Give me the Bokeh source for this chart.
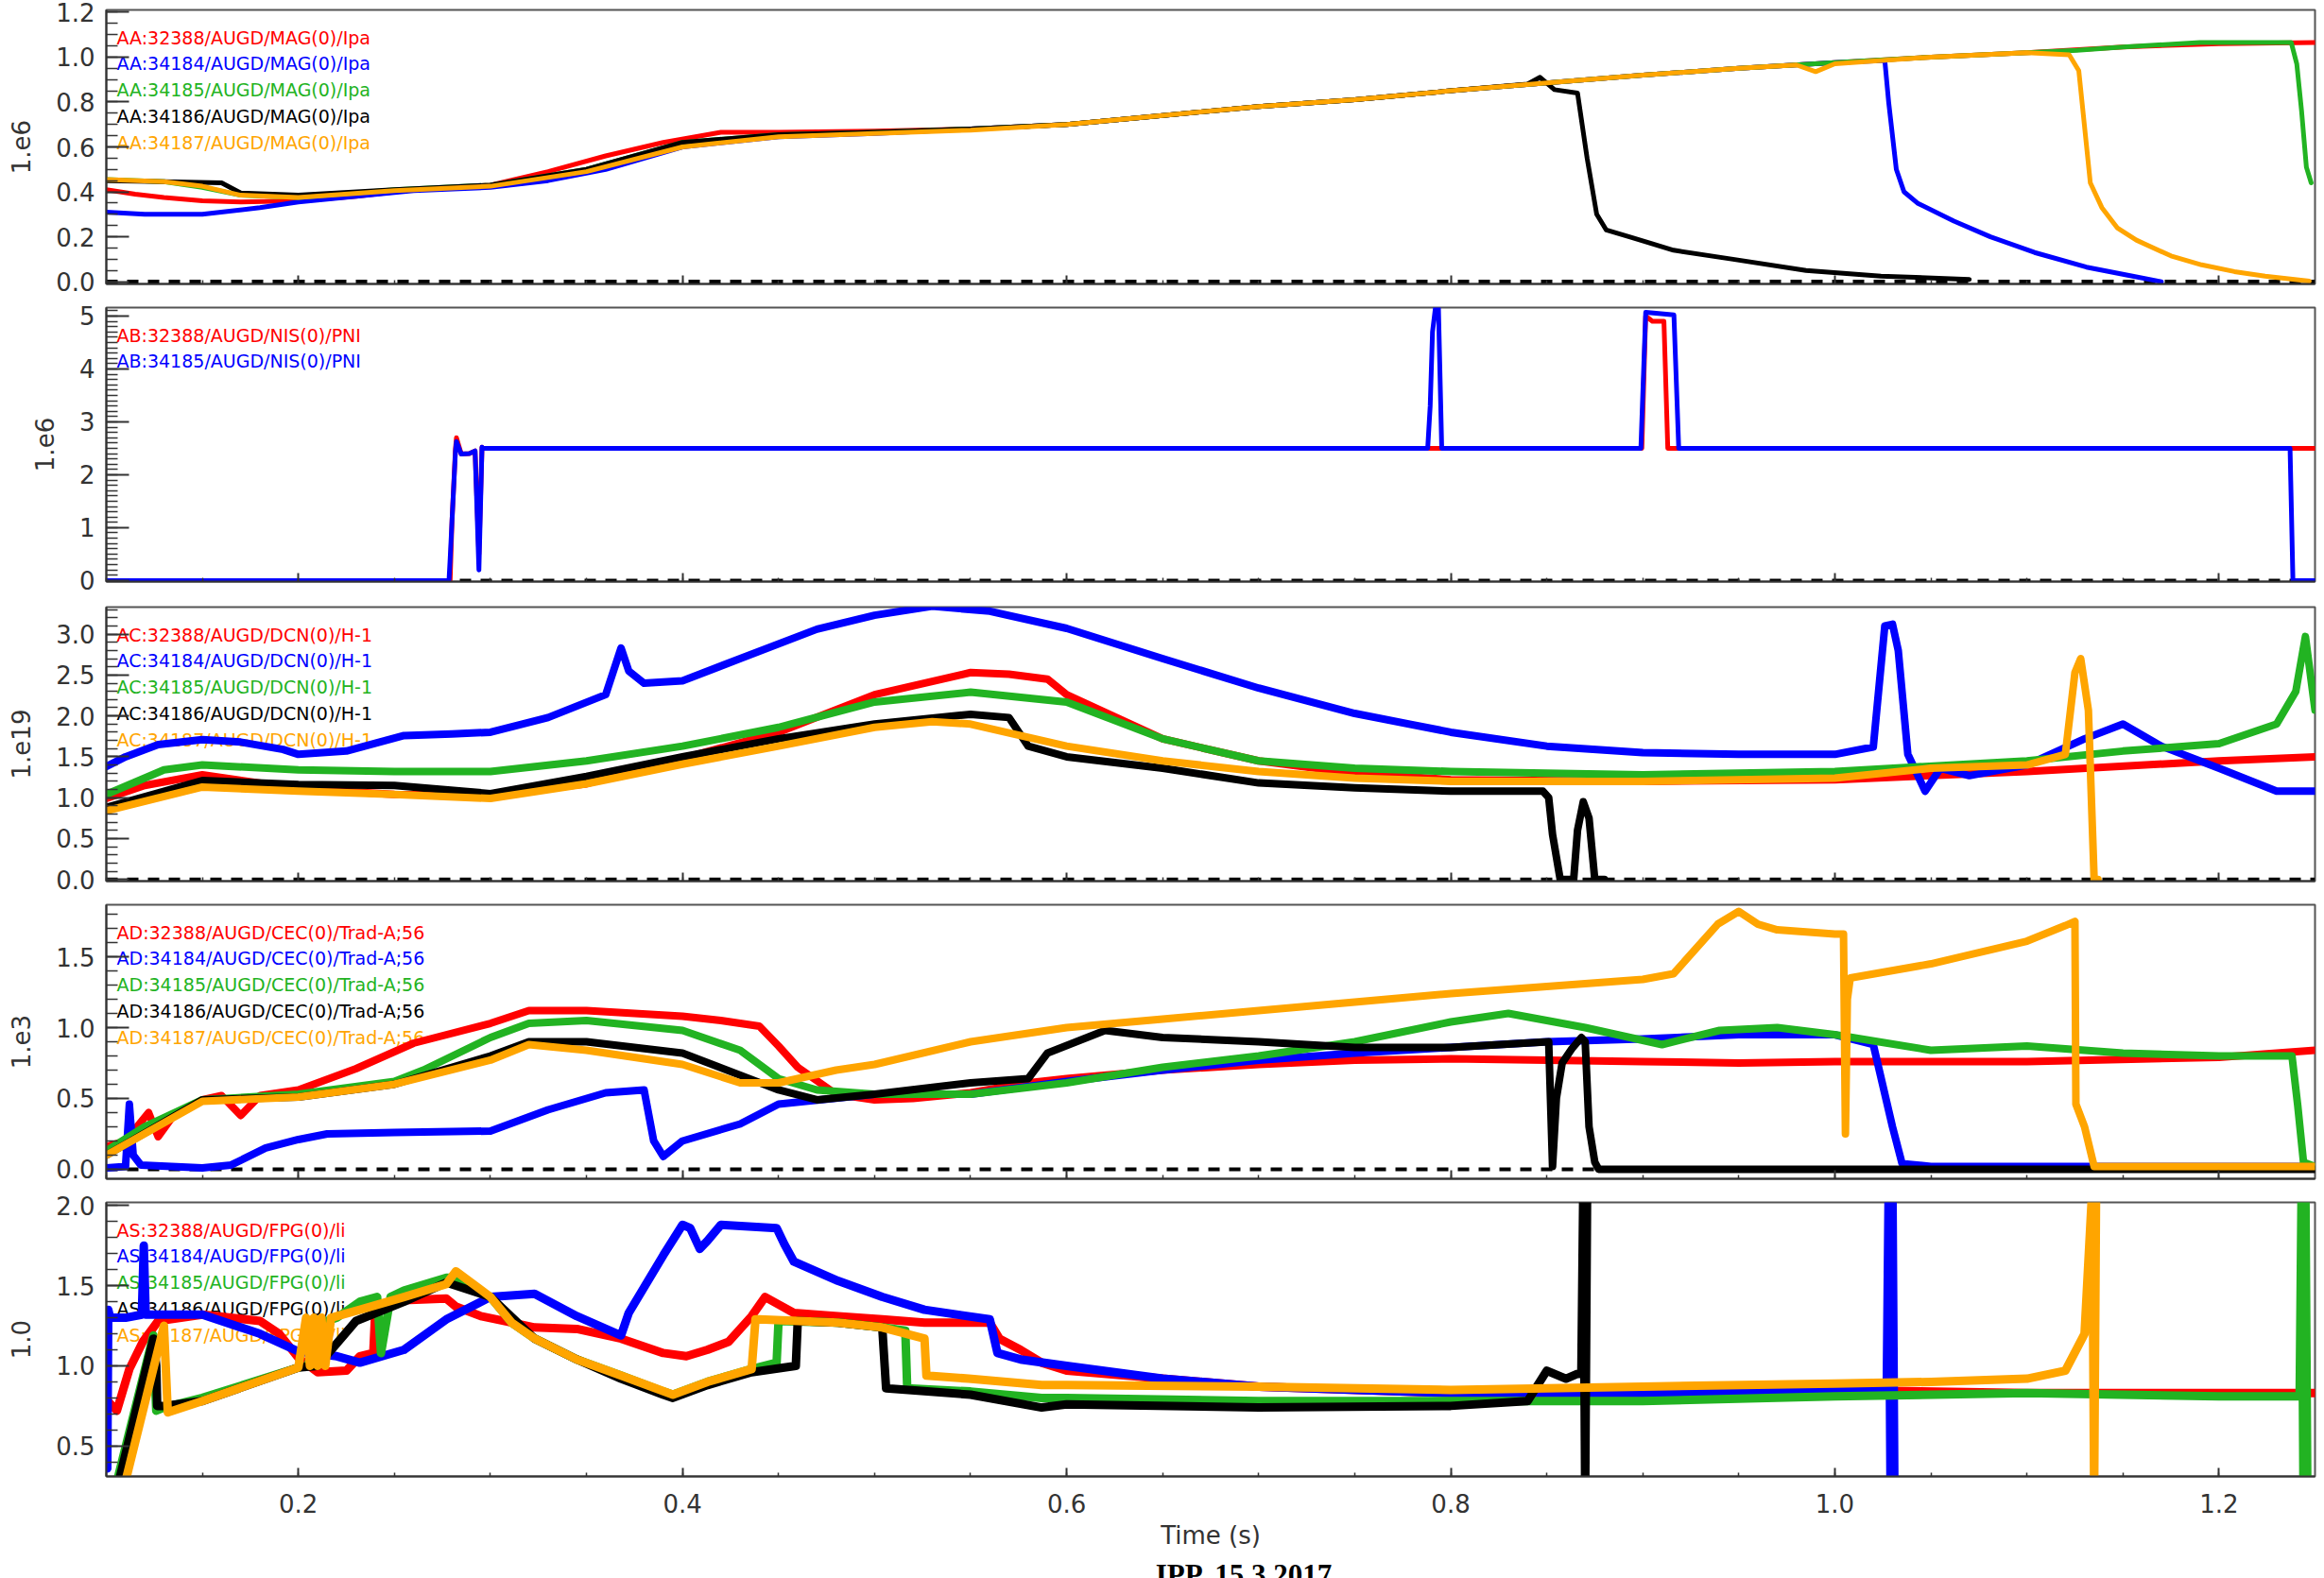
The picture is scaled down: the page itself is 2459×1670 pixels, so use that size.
from bokeh.plotting import figure
from bokeh.layouts import column
from bokeh.models import Range1d, SingleIntervalTicker, Span, Label, NumeralTickFormatter
from bokeh.embed import file_html
from bokeh.resources import INLINE

# ---------------- shared settings ----------------
X_START, X_END = 0.1, 1.25
SHOTS = ["32388", "34184", "34185", "34186", "34187"]
COLORS = ["#ff0000", "#0000ff", "#22b322", "#000000", "#ffa500"]

# ---------------- panel 1 : MAG Ipa (1.e6) ----------------
ipa_red_t = [0.100, 0.115, 0.130, 0.150, 0.170, 0.200, 0.230, 0.260, 0.300, 0.330, 0.360, 0.390, 0.420, 0.450, 0.500, 0.550, 0.600, 0.650, 0.700, 0.750, 0.800, 0.850, 0.900, 0.950, 1.000, 1.050, 1.100, 1.150, 1.200, 1.250]
ipa_red = [0.41, 0.39, 0.375, 0.36, 0.355, 0.36, 0.38, 0.41, 0.43, 0.49, 0.56, 0.62, 0.665, 0.665, 0.67, 0.68, 0.70, 0.74, 0.78, 0.81, 0.85, 0.885, 0.92, 0.95, 0.975, 1.00, 1.02, 1.045, 1.06, 1.065]
ipa_blue_t = [0.100, 0.120, 0.150, 0.180, 0.200, 0.230, 0.260, 0.300, 0.330, 0.360, 0.400, 0.450, 0.500, 0.550, 0.600, 0.650, 0.700, 0.750, 0.800, 0.850, 0.900, 0.950, 1.000, 1.026, 1.028, 1.032, 1.036, 1.043, 1.062, 1.081, 1.104, 1.131, 1.155, 1.170]
ipa_blue = [0.31, 0.30, 0.30, 0.33, 0.355, 0.38, 0.405, 0.42, 0.45, 0.50, 0.60, 0.645, 0.66, 0.68, 0.70, 0.74, 0.78, 0.81, 0.85, 0.885, 0.92, 0.95, 0.975, 0.985, 0.80, 0.50, 0.40, 0.35, 0.27, 0.20, 0.13, 0.065, 0.025, 0.0]
ipa_green_t = [0.100, 0.130, 0.150, 0.170, 0.200, 0.250, 0.300, 0.350, 0.400, 0.450, 0.500, 0.550, 0.600, 0.650, 0.700, 0.750, 0.800, 0.850, 0.900, 0.950, 1.000, 1.050, 1.100, 1.126, 1.150, 1.190, 1.2376, 1.2405, 1.243, 1.2455, 1.248]
ipa_green = [0.455, 0.445, 0.42, 0.385, 0.375, 0.41, 0.43, 0.50, 0.62, 0.655, 0.665, 0.68, 0.70, 0.74, 0.78, 0.81, 0.85, 0.885, 0.92, 0.95, 0.975, 1.00, 1.02, 1.03, 1.045, 1.065, 1.065, 0.97, 0.76, 0.51, 0.44]
ipa_black_t = [0.100, 0.130, 0.160, 0.170, 0.200, 0.250, 0.300, 0.350, 0.400, 0.450, 0.500, 0.550, 0.600, 0.650, 0.700, 0.750, 0.800, 0.840, 0.8465, 0.854, 0.866, 0.871, 0.876, 0.881, 0.893, 0.916, 0.947, 0.985, 1.024, 1.070]
ipa_black = [0.45, 0.445, 0.44, 0.395, 0.385, 0.41, 0.43, 0.50, 0.62, 0.655, 0.665, 0.68, 0.70, 0.74, 0.78, 0.81, 0.85, 0.88, 0.91, 0.855, 0.84, 0.55, 0.30, 0.23, 0.20, 0.14, 0.10, 0.05, 0.025, 0.01]
ipa_orange_t = [0.100, 0.130, 0.150, 0.170, 0.200, 0.250, 0.300, 0.350, 0.400, 0.450, 0.500, 0.550, 0.600, 0.650, 0.700, 0.750, 0.800, 0.850, 0.900, 0.950, 0.980, 0.990, 1.000, 1.050, 1.100, 1.122, 1.127, 1.130, 1.133, 1.139, 1.147, 1.157, 1.175, 1.191, 1.208, 1.224, 1.247]
ipa_orange = [0.455, 0.445, 0.425, 0.385, 0.375, 0.405, 0.425, 0.49, 0.60, 0.645, 0.66, 0.675, 0.70, 0.74, 0.78, 0.81, 0.85, 0.885, 0.92, 0.95, 0.965, 0.935, 0.97, 1.00, 1.02, 1.01, 0.94, 0.69, 0.44, 0.33, 0.24, 0.185, 0.115, 0.075, 0.045, 0.025, 0.003]

# ---------------- panel 2 : NIS PNI (1.e6) ----------------
pni_red_t = [0.100, 0.2790, 0.2800, 0.2818, 0.2823, 0.2848, 0.2890, 0.2920, 0.2940, 0.2956, 0.2960, 0.8995, 0.9015, 0.9050, 0.9110, 0.9130, 0.9140, 1.250]
pni_red = [0.0, 0.0, 1.14, 2.50, 2.70, 2.39, 2.40, 2.45, 0.50, 2.52, 2.50, 2.50, 5.00, 4.90, 4.90, 2.50, 2.50, 2.50]
pni_blue_t = [0.100, 0.2784, 0.2790, 0.2800, 0.2818, 0.2823, 0.2848, 0.2890, 0.2920, 0.2940, 0.2956, 0.2960, 0.7880, 0.7893, 0.7905, 0.7925, 0.7935, 0.7953, 0.8990, 0.9015, 0.9162, 0.9187, 1.2370, 1.2385, 1.250]
pni_blue = [0.0, 0.0, 0.40, 1.14, 2.45, 2.63, 2.39, 2.40, 2.45, 0.20, 2.52, 2.50, 2.50, 3.30, 4.70, 5.30, 5.30, 2.50, 2.50, 5.07, 5.02, 2.50, 2.50, 0.0, 0.0]

# ---------------- panel 3 : DCN H-1 (1.e19) ----------------
dcn_red_t = [0.100, 0.120, 0.150, 0.200, 0.250, 0.300, 0.350, 0.400, 0.450, 0.500, 0.550, 0.570, 0.590, 0.600, 0.650, 0.700, 0.750, 0.800, 0.900, 1.000, 1.100, 1.200, 1.250]
dcn_red = [0.99, 1.15, 1.28, 1.11, 1.04, 1.03, 1.17, 1.48, 1.80, 2.26, 2.53, 2.51, 2.45, 2.26, 1.72, 1.45, 1.30, 1.22, 1.20, 1.22, 1.32, 1.45, 1.50]
dcn_blue_t = [0.100, 0.110, 0.127, 0.150, 0.170, 0.192, 0.200, 0.225, 0.255, 0.280, 0.300, 0.330, 0.360, 0.368, 0.372, 0.380, 0.400, 0.430, 0.470, 0.500, 0.530, 0.560, 0.600, 0.650, 0.700, 0.750, 0.800, 0.850, 0.900, 0.950, 1.000, 1.020, 1.026, 1.030, 1.033, 1.038, 1.047, 1.055, 1.070, 1.100, 1.130, 1.150, 1.170, 1.200, 1.230, 1.250]
dcn_blue = [1.38, 1.50, 1.65, 1.71, 1.68, 1.59, 1.53, 1.57, 1.76, 1.78, 1.80, 1.98, 2.26, 2.83, 2.55, 2.40, 2.43, 2.70, 3.06, 3.23, 3.34, 3.28, 3.07, 2.70, 2.34, 2.03, 1.80, 1.63, 1.55, 1.53, 1.53, 1.62, 3.10, 3.12, 2.80, 1.53, 1.08, 1.36, 1.27, 1.40, 1.72, 1.90, 1.63, 1.36, 1.08, 1.08]
dcn_green_t = [0.100, 0.130, 0.150, 0.200, 0.250, 0.300, 0.350, 0.400, 0.450, 0.500, 0.550, 0.600, 0.650, 0.700, 0.750, 0.800, 0.900, 1.000, 1.100, 1.150, 1.200, 1.230, 1.240, 1.245, 1.250]
dcn_green = [1.04, 1.34, 1.40, 1.34, 1.32, 1.32, 1.45, 1.63, 1.86, 2.17, 2.29, 2.17, 1.72, 1.45, 1.36, 1.32, 1.28, 1.32, 1.45, 1.57, 1.66, 1.90, 2.30, 2.97, 2.07]
dcn_black_t = [0.100, 0.150, 0.200, 0.250, 0.300, 0.350, 0.400, 0.450, 0.500, 0.550, 0.570, 0.580, 0.600, 0.650, 0.700, 0.750, 0.800, 0.848, 0.851, 0.853, 0.857, 0.864, 0.866, 0.869, 0.872, 0.875, 0.880]
dcn_black = [0.88, 1.21, 1.16, 1.15, 1.05, 1.26, 1.50, 1.72, 1.90, 2.02, 1.98, 1.63, 1.50, 1.36, 1.18, 1.12, 1.08, 1.08, 1.00, 0.55, 0.0, 0.0, 0.60, 0.95, 0.75, 0.0, 0.0]
dcn_orange_t = [0.100, 0.150, 0.200, 0.250, 0.300, 0.350, 0.400, 0.450, 0.500, 0.530, 0.550, 0.600, 0.650, 0.700, 0.750, 0.800, 0.900, 1.000, 1.050, 1.100, 1.120, 1.125, 1.128, 1.132, 1.135, 1.137]
dcn_orange = [0.84, 1.13, 1.08, 1.04, 0.99, 1.17, 1.41, 1.63, 1.86, 1.93, 1.90, 1.63, 1.45, 1.32, 1.24, 1.20, 1.20, 1.24, 1.36, 1.40, 1.53, 2.53, 2.70, 2.07, 0.0, 0.0]

# ---------------- panel 4 : CEC Trad-A;56 (1.e3) ----------------
cec_red_t = [0.100, 0.110, 0.122, 0.127, 0.135, 0.150, 0.160, 0.170, 0.180, 0.200, 0.230, 0.260, 0.300, 0.320, 0.350, 0.400, 0.420, 0.440, 0.450, 0.460, 0.480, 0.500, 0.520, 0.550, 0.580, 0.600, 0.650, 0.700, 0.750, 0.800, 0.850, 0.900, 0.950, 1.000, 1.100, 1.200, 1.250]
cec_red = [0.16, 0.20, 0.40, 0.23, 0.38, 0.49, 0.52, 0.38, 0.52, 0.56, 0.71, 0.89, 1.03, 1.12, 1.12, 1.08, 1.05, 1.01, 0.87, 0.72, 0.53, 0.49, 0.50, 0.54, 0.61, 0.64, 0.70, 0.74, 0.77, 0.78, 0.77, 0.76, 0.75, 0.76, 0.76, 0.79, 0.84]
cec_blue_t = [0.100, 0.110, 0.112, 0.114, 0.118, 0.150, 0.165, 0.183, 0.200, 0.215, 0.250, 0.300, 0.330, 0.360, 0.380, 0.385, 0.390, 0.400, 0.430, 0.450, 0.500, 0.550, 0.600, 0.650, 0.700, 0.750, 0.800, 0.850, 0.900, 0.950, 1.000, 1.020, 1.030, 1.035, 1.050, 1.250]
cec_blue = [0.01, 0.02, 0.46, 0.10, 0.03, 0.01, 0.03, 0.15, 0.21, 0.25, 0.26, 0.27, 0.42, 0.54, 0.56, 0.20, 0.09, 0.20, 0.32, 0.46, 0.53, 0.53, 0.62, 0.70, 0.77, 0.82, 0.86, 0.90, 0.92, 0.95, 0.95, 0.88, 0.30, 0.04, 0.02, 0.02]
cec_green_t = [0.100, 0.120, 0.150, 0.200, 0.250, 0.265, 0.300, 0.320, 0.350, 0.400, 0.430, 0.450, 0.470, 0.500, 0.550, 0.600, 0.650, 0.700, 0.750, 0.800, 0.830, 0.870, 0.910, 0.940, 0.970, 1.000, 1.050, 1.100, 1.150, 1.200, 1.238, 1.241, 1.244, 1.250]
cec_green = [0.13, 0.30, 0.49, 0.53, 0.62, 0.70, 0.93, 1.03, 1.05, 0.98, 0.84, 0.64, 0.56, 0.53, 0.53, 0.61, 0.72, 0.80, 0.90, 1.04, 1.10, 1.00, 0.88, 0.98, 1.00, 0.95, 0.84, 0.87, 0.82, 0.80, 0.80, 0.45, 0.05, 0.02]
cec_black_t = [0.100, 0.150, 0.200, 0.250, 0.300, 0.320, 0.350, 0.400, 0.450, 0.470, 0.500, 0.550, 0.580, 0.590, 0.620, 0.650, 0.700, 0.750, 0.800, 0.851, 0.853, 0.855, 0.858, 0.863, 0.868, 0.870, 0.872, 0.875, 0.877, 1.250]
cec_black = [0.10, 0.49, 0.51, 0.60, 0.80, 0.90, 0.90, 0.82, 0.56, 0.49, 0.53, 0.61, 0.64, 0.82, 0.98, 0.93, 0.90, 0.86, 0.86, 0.90, 0.02, 0.50, 0.75, 0.85, 0.93, 0.90, 0.30, 0.05, 0.0, 0.0]
cec_orange_t = [0.100, 0.150, 0.200, 0.250, 0.300, 0.320, 0.350, 0.400, 0.430, 0.450, 0.480, 0.500, 0.550, 0.600, 0.650, 0.700, 0.750, 0.800, 0.850, 0.900, 0.916, 0.939, 0.950, 0.960, 0.970, 1.000, 1.0045, 1.0055, 1.0065, 1.008, 1.050, 1.100, 1.120, 1.125, 1.1255, 1.130, 1.135, 1.250]
cec_orange = [0.10, 0.48, 0.51, 0.60, 0.77, 0.88, 0.84, 0.74, 0.61, 0.61, 0.70, 0.74, 0.90, 1.00, 1.06, 1.12, 1.18, 1.24, 1.29, 1.34, 1.38, 1.73, 1.82, 1.73, 1.69, 1.66, 1.66, 0.25, 1.20, 1.35, 1.45, 1.61, 1.72, 1.75, 0.46, 0.30, 0.02, 0.02]

# ---------------- panel 5 : FPG li (1.0) ----------------
fpg_red_t = [0.100, 0.1055, 0.112, 0.119, 0.127, 0.150, 0.180, 0.190, 0.200, 0.210, 0.225, 0.232, 0.239, 0.240, 0.255, 0.277, 0.282, 0.295, 0.311, 0.323, 0.345, 0.368, 0.390, 0.402, 0.413, 0.424, 0.436, 0.443, 0.449, 0.458, 0.481, 0.504, 0.526, 0.560, 0.565, 0.576, 0.587, 0.600, 0.700, 0.800, 0.900, 1.000, 1.100, 1.200, 1.250]
fpg_red = [0.79, 0.72, 0.98, 1.15, 1.28, 1.32, 1.28, 1.20, 1.05, 0.96, 0.97, 1.06, 1.08, 1.33, 1.41, 1.42, 1.37, 1.31, 1.27, 1.24, 1.23, 1.17, 1.08, 1.06, 1.10, 1.15, 1.31, 1.43, 1.39, 1.33, 1.31, 1.29, 1.27, 1.27, 1.17, 1.10, 1.02, 0.97, 0.87, 0.83, 0.83, 0.85, 0.83, 0.83, 0.83]
fpg_blue_t = [0.100, 0.1005, 0.101, 0.102, 0.110, 0.1185, 0.1195, 0.1205, 0.130, 0.150, 0.180, 0.200, 0.220, 0.232, 0.255, 0.277, 0.300, 0.323, 0.345, 0.368, 0.372, 0.390, 0.400, 0.404, 0.409, 0.413, 0.420, 0.449, 0.453, 0.458, 0.481, 0.504, 0.526, 0.560, 0.564, 0.576, 0.600, 0.650, 0.700, 0.800, 0.900, 1.000, 1.027, 1.028, 1.029, 1.030, 1.031]
fpg_blue = [0.80, 0.36, 1.35, 1.30, 1.30, 1.32, 1.75, 1.32, 1.32, 1.32, 1.20, 1.09, 1.06, 1.02, 1.10, 1.29, 1.43, 1.45, 1.31, 1.19, 1.33, 1.69, 1.88, 1.86, 1.73, 1.78, 1.88, 1.86, 1.76, 1.65, 1.53, 1.43, 1.35, 1.29, 1.08, 1.04, 1.00, 0.92, 0.87, 0.83, 0.83, 0.85, 0.85, 2.10, 0.20, 2.10, 0.20]
fpg_green_t = [0.106, 0.1245, 0.126, 0.130, 0.150, 0.200, 0.205, 0.210, 0.220, 0.232, 0.241, 0.243, 0.248, 0.255, 0.277, 0.282, 0.300, 0.311, 0.323, 0.345, 0.368, 0.390, 0.395, 0.413, 0.436, 0.449, 0.450, 0.481, 0.504, 0.516, 0.517, 0.550, 0.587, 0.600, 0.700, 0.800, 0.900, 1.000, 1.100, 1.200, 1.242, 1.243, 1.244, 1.245, 1.246]
fpg_green = [0.30, 1.19, 0.72, 0.74, 0.80, 0.99, 1.00, 1.26, 1.30, 1.40, 1.43, 1.08, 1.43, 1.47, 1.55, 1.55, 1.43, 1.27, 1.17, 1.04, 0.94, 0.84, 0.82, 0.90, 0.98, 1.02, 1.28, 1.27, 1.24, 1.22, 0.86, 0.84, 0.80, 0.80, 0.78, 0.78, 0.78, 0.81, 0.83, 0.81, 0.81, 2.10, 0.20, 2.10, 0.20]
fpg_black_t = [0.107, 0.1245, 0.126, 0.1265, 0.130, 0.150, 0.200, 0.210, 0.230, 0.255, 0.277, 0.300, 0.323, 0.345, 0.368, 0.390, 0.395, 0.413, 0.436, 0.459, 0.460, 0.481, 0.504, 0.506, 0.550, 0.587, 0.600, 0.700, 0.800, 0.840, 0.850, 0.860, 0.866, 0.868, 0.869, 0.870, 0.871]
fpg_black = [0.30, 1.17, 1.00, 0.75, 0.75, 0.78, 0.99, 1.00, 1.28, 1.40, 1.52, 1.43, 1.17, 1.04, 0.92, 0.82, 0.80, 0.88, 0.96, 1.00, 1.28, 1.27, 1.24, 0.86, 0.82, 0.74, 0.76, 0.74, 0.75, 0.78, 0.97, 0.92, 0.95, 0.95, 2.10, 0.20, 2.10]
fpg_orange_t = [0.110, 0.130, 0.132, 0.150, 0.200, 0.204, 0.206, 0.208, 0.210, 0.212, 0.214, 0.217, 0.232, 0.255, 0.277, 0.282, 0.300, 0.311, 0.323, 0.345, 0.368, 0.395, 0.413, 0.436, 0.438, 0.440, 0.481, 0.504, 0.526, 0.527, 0.549, 0.587, 0.600, 0.700, 0.800, 0.900, 1.000, 1.050, 1.100, 1.120, 1.130, 1.134, 1.135, 1.136]
fpg_orange = [0.28, 1.25, 0.71, 0.78, 0.99, 1.30, 1.00, 1.30, 1.00, 1.30, 1.00, 1.30, 1.35, 1.43, 1.51, 1.59, 1.43, 1.27, 1.17, 1.04, 0.94, 0.82, 0.90, 0.98, 1.29, 1.29, 1.27, 1.24, 1.17, 0.94, 0.92, 0.88, 0.88, 0.87, 0.85, 0.87, 0.89, 0.90, 0.92, 0.97, 1.20, 2.10, 0.20, 2.10]

# ---------------- labels ----------------
ipa_labels = ["AA:%s/AUGD/MAG(0)/Ipa" % s for s in SHOTS]
pni_labels = ["AB:32388/AUGD/NIS(0)/PNI", "AB:34185/AUGD/NIS(0)/PNI"]
dcn_labels = ["AC:%s/AUGD/DCN(0)/H-1" % s for s in SHOTS]
cec_labels = ["AD:%s/AUGD/CEC(0)/Trad-A;56" % s for s in SHOTS]
fpg_labels = ["AS:%s/AUGD/FPG(0)/li" % s for s in SHOTS]
footer_text = "IPP, 15.3.2017"

AX_COLOR = "#333333"
FONT = "DejaVu Sans"


def style_axis(ax):
    ax.axis_line_color = AX_COLOR
    ax.axis_line_width = 2
    ax.major_tick_line_color = AX_COLOR
    ax.major_tick_line_width = 2
    ax.minor_tick_line_color = AX_COLOR
    ax.minor_tick_line_width = 1.5
    ax.major_label_text_font = FONT
    ax.major_label_text_font_size = "26px"
    ax.major_label_text_color = AX_COLOR
    ax.axis_label_text_font = FONT
    ax.axis_label_text_font_size = "26px"
    ax.axis_label_text_font_style = "normal"
    ax.axis_label_text_color = AX_COLOR


def build(height, top, bottom, yrange, yint, yminor, ylabel, series, labels, lw,
          decimals=True, last=False):
    p = figure(width=2459, height=height,
               x_range=Range1d(X_START, X_END), y_range=Range1d(*yrange),
               output_backend="svg", toolbar_location=None, tools="",
               min_border_left=112, min_border_right=10,
               min_border_top=top, min_border_bottom=bottom)
    p.xgrid.visible = False
    p.ygrid.visible = False
    p.outline_line_color = "#555555"
    p.outline_line_width = 2
    p.background_fill_color = "white"
    p.border_fill_color = "white"

    if yrange[0] < 0:
        p.add_layout(Span(location=0, dimension="width", line_color="black",
                          line_width=4, line_dash="12 10", level="underlay"))

    for i, txt in enumerate(labels):
        p.add_layout(Label(x=X_START, y=yrange[1], x_offset=11, y_offset=-(29 + 27.8 * i),
                           text=txt, text_color=COLORS[i],
                           text_font=FONT, text_font_size="19px",
                           text_baseline="middle", level="underlay"))

    for (t, v), c in series:
        p.line(t, v, line_color=c, line_width=lw, line_join="round", line_cap="round")

    xa = p.xaxis[0]
    style_axis(xa)
    xa.ticker = SingleIntervalTicker(interval=0.2, num_minor_ticks=4)
    xa.formatter = NumeralTickFormatter(format="0.0")
    xa.major_tick_in = 9
    xa.major_tick_out = 0
    xa.minor_tick_in = 4
    xa.minor_tick_out = 0
    if last:
        xa.major_label_standoff = 18
        xa.axis_label = "Time (s)"
        xa.axis_label_standoff = 6
    else:
        # tick marks only: labels are not drawn and take no room
        xa.major_label_text_color = None
        xa.major_label_text_font_size = "10px"
        xa.major_label_standoff = -14

    ya = p.yaxis[0]
    style_axis(ya)
    ya.ticker = SingleIntervalTicker(interval=yint, num_minor_ticks=yminor)
    if decimals:
        ya.formatter = NumeralTickFormatter(format="0.0")
    ya.major_tick_in = 24
    ya.major_tick_out = 0
    ya.minor_tick_in = 12
    ya.minor_tick_out = 0
    ya.major_label_standoff = 12
    ya.axis_label = ylabel
    ya.axis_label_standoff = 24
    return p


p1 = build(316, 10, 16, (-0.01, 1.21), 0.2, 4, "1.e6",
           [((ipa_red_t, ipa_red), COLORS[0]), ((ipa_blue_t, ipa_blue), COLORS[1]),
            ((ipa_green_t, ipa_green), COLORS[2]), ((ipa_black_t, ipa_black), COLORS[3]),
            ((ipa_orange_t, ipa_orange), COLORS[4])], ipa_labels, 5)

p2 = build(316, 9, 17, (-0.02, 5.16), 1, 10, "1.e6",
           [((pni_red_t, pni_red), COLORS[0]), ((pni_blue_t, pni_blue), COLORS[1])],
           pni_labels, 5, decimals=False)

p3 = build(316, 10, 16, (-0.02, 3.33), 0.5, 5, "1.e19",
           [((dcn_red_t, dcn_red), COLORS[0]), ((dcn_blue_t, dcn_blue), COLORS[1]),
            ((dcn_green_t, dcn_green), COLORS[2]), ((dcn_black_t, dcn_black), COLORS[3]),
            ((dcn_orange_t, dcn_orange), COLORS[4])], dcn_labels, 8)

p4 = build(307, 9, 8, (-0.067, 1.867), 0.5, 5, "1.e3",
           [((cec_red_t, cec_red), COLORS[0]), ((cec_blue_t, cec_blue), COLORS[1]),
            ((cec_green_t, cec_green), COLORS[2]), ((cec_black_t, cec_black), COLORS[3]),
            ((cec_orange_t, cec_orange), COLORS[4])], cec_labels, 8)

p5 = build(393, 17, 86, (0.31, 2.02), 0.5, 5, "1.0",
           [((fpg_red_t, fpg_red), COLORS[0]), ((fpg_blue_t, fpg_blue), COLORS[1]),
            ((fpg_green_t, fpg_green), COLORS[2]), ((fpg_black_t, fpg_black), COLORS[3]),
            ((fpg_orange_t, fpg_orange), COLORS[4])], fpg_labels, 9, last=True)

# footer strip, cut off by the page bottom as in the original screenshot
pf = figure(width=2459, height=22, x_range=Range1d(0, 1), y_range=Range1d(0, 1),
            output_backend="svg", toolbar_location=None, tools="",
            min_border=0, min_border_left=0, min_border_right=0,
            min_border_top=0, min_border_bottom=0)
pf.axis.visible = False
pf.grid.visible = False
pf.outline_line_color = None
pf.add_layout(Label(x=0.515, y=1, y_offset=0, text=footer_text,
                    text_font="Liberation Serif", text_font_style="bold",
                    text_font_size="31px", text_color="black",
                    text_align="center", text_baseline="top"))

layout = column(p1, p2, p3, p4, p5, pf, spacing=0)

with open("out.html", "w") as f:
    f.write(file_html(layout, INLINE, title="AUG shots comparison"))
